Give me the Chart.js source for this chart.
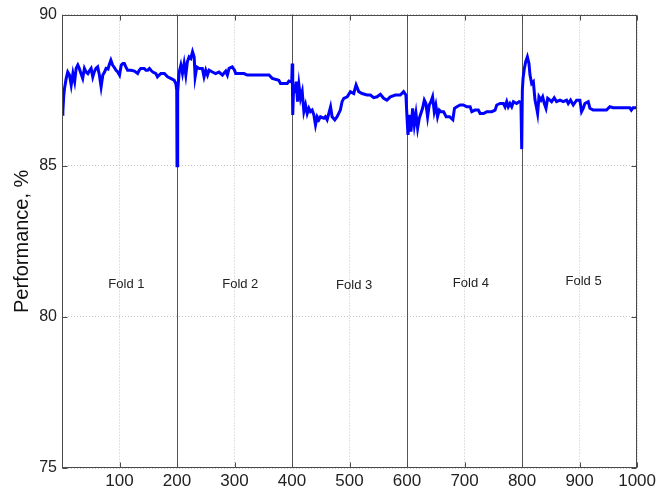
<!DOCTYPE html>
<html>
<head>
<meta charset="utf-8">
<script src="https://cdn.jsdelivr.net/npm/chart.js@4"></script>
<style>
  html, body { margin: 0; padding: 0; background: #fff; }
  #wrap { width: 659px; height: 492px; }
</style>
</head>
<body>
<div id="wrap"><canvas id="c" width="659" height="492"></canvas></div>
<script>
// Iteration index and classification performance (%)
const iterations = [
  0, 1.5, 3, 4.4, 7.3, 10, 13, 16, 19, 22, 24.6, 27.5, 30, 33, 36, 39, 42, 45, 48, 50.6,
  53.5, 56, 59, 62, 65, 68, 71, 74, 76.6, 80, 82, 85, 88, 91, 94, 97, 100, 103, 106, 108.4,
  111, 114, 120, 126, 131.5, 134, 137, 143, 146, 149, 152, 155, 158, 163.3, 166, 169, 172, 178, 183.5, 189,
  195, 198, 199.5, 200, 200.8, 201.5,
  203.8, 206.7, 209.5, 212.4, 215.3, 218, 221, 224, 227, 229.8, 231.5, 234.4, 238.5, 244, 247, 250,
  253, 255.8, 261.6, 267, 273, 279, 284.7, 287.6, 290.5, 296, 300, 302, 308, 316.5, 322, 334,
  345.4, 360, 365.6, 377, 380, 391.6, 394.5, 397, 399.5, 400.3, 401.2, 402.5,
  405, 407.3, 409.6, 412, 414.8, 417.7, 420.6, 423.5, 426.4, 429.3, 432, 435, 438, 440.8, 443.7, 446.6,
  449.5, 455.3, 458, 461, 464, 467, 469.7, 474.4, 478.4, 484, 487, 490, 496, 501.5, 507.3, 511.4,
  516, 521.8, 530.4, 536.2, 542, 547.8, 553.6, 559.3, 565, 571, 579.6, 588.3, 594, 598, 600, 601.6,
  604.5, 606.8, 609.7, 612.6, 615.5, 618.4, 621.3, 624, 627, 630, 632.8, 635.7, 638.6, 641.5, 644.4, 647.3,
  650, 653, 656, 658.8, 663.5, 668, 674, 679.6, 682.5, 686.6, 692.4, 698, 704, 709.7, 712.6, 718,
  724, 727, 733, 738.6, 747.3, 753, 756, 761.7, 767.5, 770.4, 773.3, 776, 779, 782, 785, 790.6,
  795, 798, 799.4, 800.5,
  801.7, 804, 806.3, 809.2, 812, 813.8, 816.7, 819.6, 822.5, 825.4, 827, 829.4, 832.9, 835.8, 838.7, 841.6,
  844.5, 848.5, 851.4, 856, 860, 866, 871.6, 877.4, 880.3, 884.3, 889, 894.8, 900.5, 903.4, 906.3, 909.2,
  915, 918, 923.6, 929.4, 935, 941, 946.8, 952.6, 958.4, 978.6, 987.2, 990, 993, 1000
];
const performance = [
  86.70, 86.79, 87.30, 87.56, 87.89, 88.10, 88.00, 87.67, 88.05, 87.78, 88.22, 88.33, 88.22, 88.05, 87.89, 88.22, 88.10, 88.05, 88.15, 88.22,
  87.94, 88.10, 88.22, 88.27, 88.00, 87.61, 88.00, 88.10, 88.22, 88.20, 88.33, 88.49, 88.33, 88.25, 88.16, 88.10, 88.00, 88.33, 88.38, 88.38,
  88.27, 88.16, 88.16, 88.13, 88.05, 88.15, 88.22, 88.22, 88.16, 88.16, 88.22, 88.15, 88.10, 88.05, 87.94, 88.00, 88.05, 88.05, 87.94, 87.89,
  87.83, 87.72, 87.50, 85.00, 86.20, 87.45,
  88.10, 88.33, 88.05, 88.38, 88.00, 88.44, 88.60, 88.55, 88.77, 88.60, 87.94, 88.27, 88.22, 88.22, 87.94, 88.16,
  88.00, 88.16, 88.10, 88.05, 88.10, 88.00, 88.13, 88.00, 88.22, 88.27, 88.16, 88.05, 88.05, 88.05, 88.00, 88.00,
  88.00, 88.00, 87.89, 87.83, 87.72, 87.72, 87.80, 87.78, 87.80, 88.38, 86.68, 87.45,
  87.45, 87.78, 87.12, 87.67, 87.23, 87.45, 86.79, 87.01, 86.73, 86.90, 86.79, 86.84, 86.68, 86.35, 86.62, 86.52,
  86.62, 86.57, 86.62, 86.52, 86.73, 86.95, 86.62, 86.52, 86.62, 86.84, 87.12, 87.23, 87.28, 87.45, 87.39, 87.67,
  87.45, 87.39, 87.34, 87.34, 87.25, 87.28, 87.36, 87.23, 87.17, 87.28, 87.34, 87.34, 87.45, 87.34, 86.57, 86.02,
  86.68, 86.13, 86.90, 86.35, 86.73, 86.24, 86.57, 86.73, 86.90, 87.17, 87.06, 86.62, 87.01, 87.12, 87.28, 86.79,
  87.01, 86.62, 86.84, 86.79, 86.79, 86.62, 86.62, 86.52, 86.90, 86.95, 87.01, 87.01, 86.95, 86.95, 86.79, 86.84,
  86.84, 86.73, 86.73, 86.79, 86.79, 86.84, 87.01, 87.06, 87.06, 86.95, 87.12, 86.95, 87.06, 86.95, 87.12, 87.06,
  87.12, 87.10, 85.55, 87.50,
  87.89, 88.22, 88.44, 88.60, 88.38, 88.00, 87.72, 87.78, 87.17, 86.90, 86.73, 87.28, 87.17, 87.28, 87.06, 86.90,
  87.23, 87.17, 87.12, 87.25, 87.12, 87.17, 87.12, 87.17, 87.06, 87.17, 87.01, 87.17, 87.17, 86.79, 86.90, 87.06,
  87.12, 86.90, 86.84, 86.84, 86.84, 86.84, 86.84, 86.95, 86.92, 86.92, 86.92, 86.84, 86.92, 86.92
];

// Fold boundaries and fold labels (label anchor in data units)
const foldBoundaries = [200, 400, 600, 800];
const foldNames = ['Fold 1', 'Fold 2', 'Fold 3', 'Fold 4', 'Fold 5'];
const foldLabelX = [112, 310, 508, 711, 907];
const foldLabelY = [81.08, 81.08, 81.03, 81.09, 81.17];

const xTicks = [100, 200, 300, 400, 500, 600, 700, 800, 900, 1000];
const yTicks = [75, 80, 85, 90];

const FONT = "'Liberation Sans', Arial, sans-serif";
const FRAME = '#4a4a4a';

// Frame, inward tick marks, fold separators and fold labels
const foldPlugin = {
  id: 'folds',
  beforeDatasetsDraw(chart) {
    const { ctx, chartArea: a, scales: { x, y } } = chart;
    ctx.save();
    ctx.strokeStyle = '#555';
    ctx.lineWidth = 1;
    foldBoundaries.forEach(v => {
      const px = Math.round(x.getPixelForValue(v)) + 0.5;
      ctx.beginPath();
      ctx.moveTo(px, a.top);
      ctx.lineTo(px, a.bottom);
      ctx.stroke();
    });
    ctx.fillStyle = '#222';
    ctx.font = '13px ' + FONT;
    ctx.textAlign = 'center';
    ctx.textBaseline = 'middle';
    foldNames.forEach((n, i) => {
      ctx.fillText(n, x.getPixelForValue(foldLabelX[i]), y.getPixelForValue(foldLabelY[i]));
    });
    ctx.restore();
  },
  afterDraw(chart) {
    const { ctx, chartArea: a, scales: { x, y } } = chart;
    ctx.save();
    ctx.strokeStyle = FRAME;
    ctx.lineWidth = 1;
    const L = Math.round(a.left) + 0.5, R = Math.round(a.right) - 0.5;
    const T = Math.round(a.top) + 0.5, B = Math.round(a.bottom) - 0.5;
    ctx.strokeRect(L, T, R - L, B - T);
    const len = 5;
    ctx.beginPath();
    xTicks.forEach(v => {
      const px = Math.round(x.getPixelForValue(v)) + 0.5;
      ctx.moveTo(px, B); ctx.lineTo(px, B - len);
      ctx.moveTo(px, T); ctx.lineTo(px, T + len);
    });
    yTicks.forEach(v => {
      const py = Math.round(y.getPixelForValue(v)) + 0.5;
      ctx.moveTo(L, py); ctx.lineTo(L + len, py);
      ctx.moveTo(R, py); ctx.lineTo(R - len, py);
    });
    ctx.stroke();
    ctx.restore();
  }
};

new Chart(document.getElementById('c'), {
  type: 'line',
  data: {
    datasets: [{
      data: iterations.map((v, i) => ({ x: v, y: performance[i] })),
      borderColor: 'rgb(0,0,255)',
      borderWidth: 3,
      pointRadius: 0,
      tension: 0,
      fill: false
    }]
  },
  options: {
    responsive: false,
    animation: false,
    devicePixelRatio: 1,
    layout: { padding: { top: 12, right: 20, bottom: 0, left: 0 } },
    plugins: { legend: { display: false }, tooltip: { enabled: false } },
    scales: {
      x: {
        type: 'linear',
        min: 0,
        max: 1000,
        afterBuildTicks(scale) { scale.ticks = xTicks.map(v => ({ value: v })); },
        afterFit(scale) { scale.height = 24; },
        ticks: {
          color: '#222',
          font: { family: FONT, size: 17 },
          padding: 3,
          maxRotation: 0,
          autoSkip: false,
          callback: v => String(v)
        },
        grid: { color: '#c4c4c4', drawTicks: false, lineWidth: 1 },
        border: { display: false, dash: [1, 2] }
      },
      y: {
        type: 'linear',
        min: 75,
        max: 90,
        afterBuildTicks(scale) { scale.ticks = yTicks.map(v => ({ value: v })); },
        afterFit(scale) { scale.width = 62; },
        ticks: {
          color: '#222',
          font: { family: FONT, size: 16 },
          padding: 5,
          callback: v => String(v)
        },
        grid: { color: '#c4c4c4', drawTicks: false, lineWidth: 1 },
        border: { display: false, dash: [1, 2] },
        title: {
          display: true,
          text: 'Performance, %',
          color: '#111',
          font: { family: FONT, size: 20 },
          padding: { top: 10, bottom: 0 }
        }
      }
    }
  },
  plugins: [foldPlugin]
});
</script>
</body>
</html>
